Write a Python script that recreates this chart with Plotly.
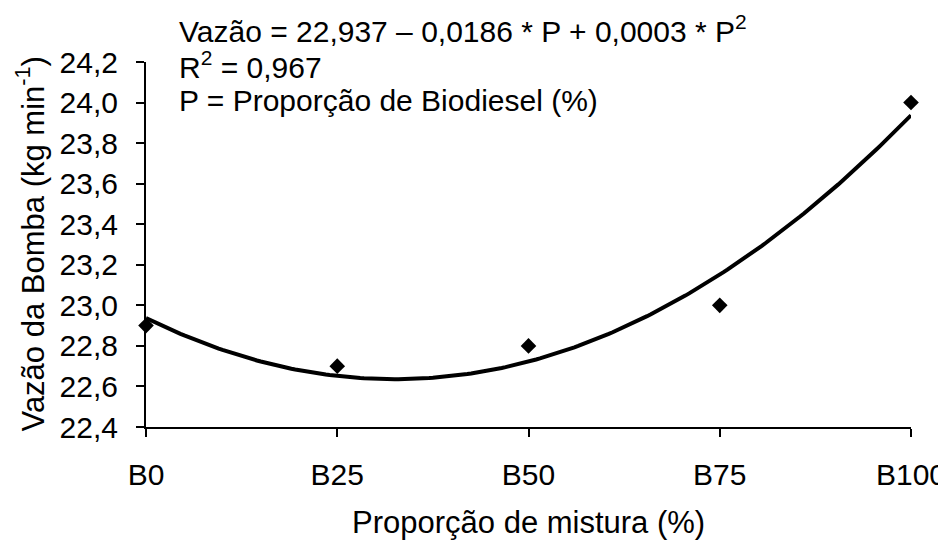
import numpy as np
import plotly.graph_objects as go

# Data
proportion = [0, 25, 50, 75, 100]
tick_labels = ["B0", "B25", "B50", "B75", "B100"]
flow = [22.9, 22.7, 22.8, 23.0, 24.0]
y_ticks = [22.4, 22.6, 22.8, 23.0, 23.2, 23.4, 23.6, 23.8, 24.0, 24.2]

# Quadratic trendline fitted to the data
coef = np.polyfit(proportion, flow, 2)
xs = np.linspace(0, 100, 201)
ys = np.polyval(coef, xs)

FONT = "Liberation Sans, Arial, sans-serif"
TICK = 30
TXT = 30

# page body has an 8px margin; compensate
PLOT_L, PLOT_R, PLOT_T, PLOT_B = 146, 911, 62, 427
OFF = 8
W, H = 946 - OFF, 540 - OFF
PH = PLOT_B - PLOT_T
PW = PLOT_R - PLOT_L

fig = go.Figure()
fig.add_trace(go.Scatter(x=xs, y=ys, mode="lines",
                         line=dict(color="black", width=4),
                         hoverinfo="skip", showlegend=False, cliponaxis=False))
fig.add_trace(go.Scatter(x=proportion, y=flow, mode="markers",
                         marker=dict(symbol="diamond", size=12, color="black"),
                         showlegend=False, cliponaxis=False))

fig.update_layout(
    width=W, height=H,
    margin=dict(l=PLOT_L - OFF, r=W - (PLOT_R - OFF), t=PLOT_T - OFF,
                b=H - (PLOT_B - OFF), pad=0, autoexpand=False),
    paper_bgcolor="white", plot_bgcolor="white",
    font=dict(family=FONT, size=TICK, color="black"),
    xaxis=dict(range=[0, 100], tickvals=proportion, ticktext=tick_labels,
               showgrid=False, zeroline=False, showline=True,
               linecolor="black", linewidth=2, automargin=False,
               ticks="outside", ticklen=8, tickwidth=2, tickcolor="black",
               ticklabelstandoff=12, ticklabeloverflow="allow",
               tickfont=dict(size=TICK)),
    yaxis=dict(range=[22.4, 24.2], tickvals=y_ticks,
               ticktext=[f"{v:.1f}".replace(".", ",") for v in y_ticks],
               showgrid=False, zeroline=False, showline=True,
               linecolor="black", linewidth=2, automargin=False,
               ticks="outside", ticklen=8, tickwidth=2, tickcolor="black",
               ticklabelstandoff=12, ticklabeloverflow="allow",
               tickfont=dict(size=TICK)),
)

ann = [
    dict(text="Vazão = 22,937 – 0,0186 * P + 0,0003 * P<sup>2</sup>", y=29),
    dict(text="R<sup>2</sup> = 0,967", y=65),
    dict(text="P = Proporção de Biodiesel (%)", y=100),
]
for a in ann:
    fig.add_annotation(text=a["text"], xref="paper", x=(177 - PLOT_L) / PW,
                       xanchor="left", yref="paper",
                       y=1 - (a["y"] - PLOT_T) / PH, yanchor="middle",
                       showarrow=False, font=dict(size=TXT, family=FONT))

fig.add_annotation(text="Proporção de mistura (%)", xref="paper", x=0.5,
                   yref="paper", y=1 - (522 - PLOT_T) / PH, yanchor="middle",
                   showarrow=False, font=dict(size=31, family=FONT))
fig.add_annotation(text="Vazão da Bomba (kg min<sup>-1</sup>)", xref="paper",
                   x=-(PLOT_L - 30) / PW, xanchor="center",
                   yref="paper", y=0.5, yanchor="middle", textangle=-90,
                   showarrow=False, font=dict(size=31, family=FONT))

fig.write_html("out.html")
